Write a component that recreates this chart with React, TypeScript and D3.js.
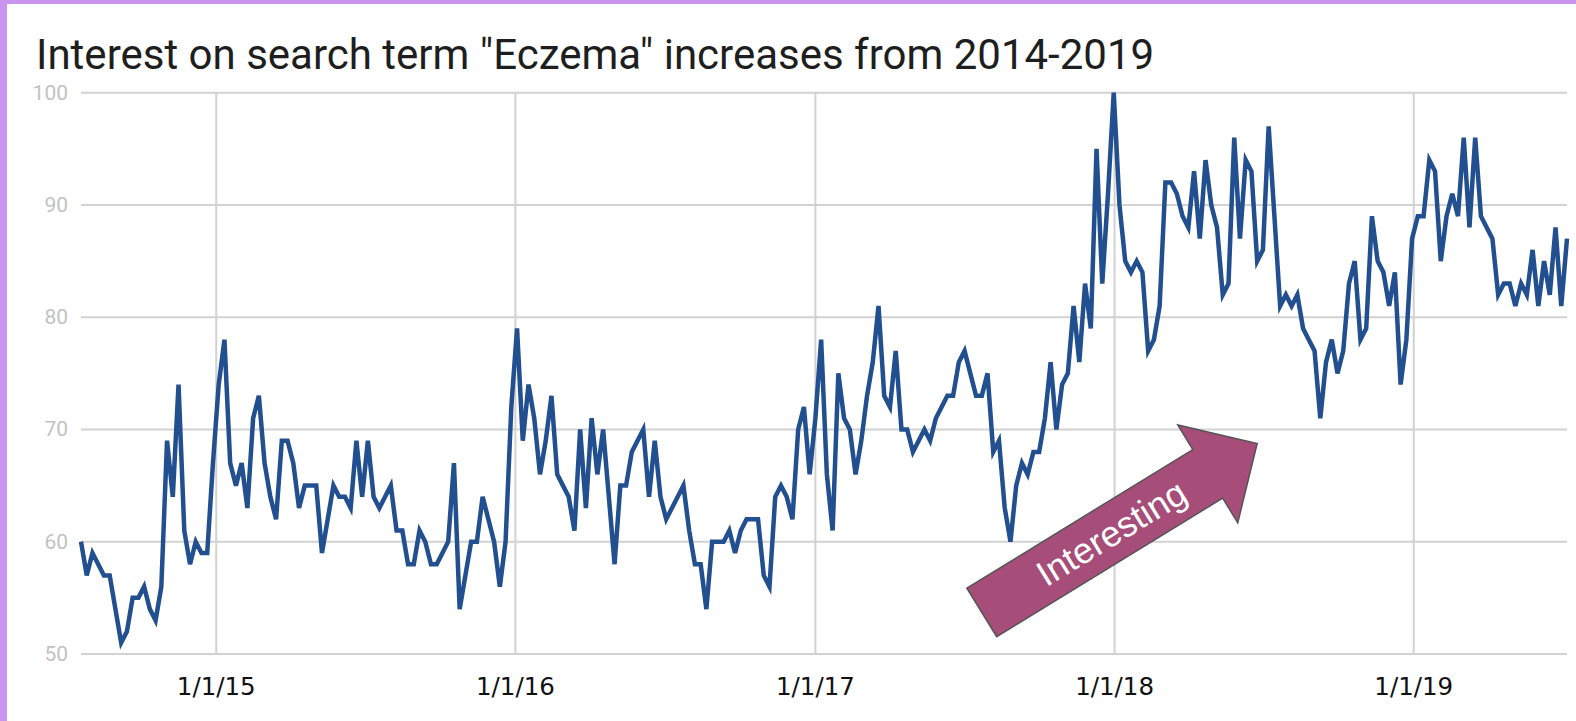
import React, { useRef, useEffect } from 'react';
import * as d3 from 'd3';

// weekly interest, first week starts 2014-07-20
const startWeek = '2014-07-20';

const weeks2014 = [60, 57, 59, 58, 57, 57, 54, 51, 52, 55, 55, 56, 54, 53, 56, 69, 64, 74, 61, 58, 60, 59, 59, 67];
const weeks2015 = [74, 78, 67, 65, 67, 63, 71, 73, 67, 64, 62, 69, 69, 67, 63, 65, 65, 65, 59, 62, 65, 64, 64, 63, 69, 64,
  69, 64, 63, 64, 65, 61, 61, 58, 58, 61, 60, 58, 58, 59, 60, 67, 54, 57, 60, 60, 64, 62, 60, 56, 60, 72];
const weeks2016 = [79, 69, 74, 71, 66, 69, 73, 66, 65, 64, 61, 70, 63, 71, 66, 70, 64, 58, 65, 65, 68, 69, 70, 64, 69, 64,
  62, 63, 64, 65, 61, 58, 58, 54, 60, 60, 60, 61, 59, 61, 62, 62, 62, 57, 56, 64, 65, 64, 62, 70, 72, 66];
const weeks2017 = [71, 78, 66, 61, 75, 71, 70, 66, 69, 73, 76, 81, 73, 72, 77, 70, 70, 68, 69, 70, 69, 71, 72, 73, 73, 76,
  77, 75, 73, 73, 75, 68, 69, 63, 60, 65, 67, 66, 68, 68, 71, 76, 70, 74, 75, 81, 76, 83, 79, 95, 83, 91, 100];
const weeks2018 = [90, 85, 84, 85, 84, 77, 78, 81, 92, 92, 91, 89, 88, 93, 87, 94, 90, 88, 82, 83, 96, 87, 94, 93, 85, 86,
  97, 89, 81, 82, 81, 82, 79, 78, 77, 71, 76, 78, 75, 77, 83, 85, 78, 79, 89, 85, 84, 81, 84, 74, 78, 87];
const weeks2019 = [89, 89, 94, 93, 85, 89, 91, 89, 96, 88, 96, 89, 88, 87, 82, 83, 83, 81, 83, 82, 86, 81, 85, 82, 88, 81, 87];

const yTicks = [50, 60, 70, 80, 90, 100];
const xTickDates = ['2015-01-01', '2016-01-01', '2017-01-01', '2018-01-01', '2019-01-01'];
const xTickLabels = ['1/1/15', '1/1/16', '1/1/17', '1/1/18', '1/1/19'];

const title = 'Interest on search term "Eczema" increases from 2014-2019';
const note = 'Interesting';
const noteFrom = { date: '2017-07-23', value: 53.7 };
const noteTo = { date: '2018-06-24', value: 68.75 };

const App = () => {
  const svgRef = useRef<SVGSVGElement>(null);

  useEffect(() => {
    const w = 1576;
    const h = 721;
    const svg = d3.select(svgRef.current);
    svg.selectAll('*').remove();

    const values = [...weeks2014, ...weeks2015, ...weeks2016, ...weeks2017, ...weeks2018, ...weeks2019];
    const start = new Date(startWeek + 'T00:00:00Z');
    const data = values.map((v, i) => ({ date: d3.utcWeek.offset(start, i), value: v }));

    const left = 81, right = 1567, top = 92.7, bottom = 654;
    const x = d3.scaleUtc()
      .domain([data[0].date, data[data.length - 1].date])
      .range([left, right]);
    const y = d3.scaleLinear().domain([50, 100]).range([bottom, top]);

    svg.append('rect').attr('width', w).attr('height', h).attr('fill', '#fff');
    // purple page edges
    svg.append('rect').attr('x', 0).attr('y', 0).attr('width', 7).attr('height', h).attr('fill', '#ca95f1');
    svg.append('rect').attr('x', 0).attr('y', 0).attr('width', w).attr('height', 4).attr('fill', '#ca95f1');

    svg.append('text')
      .attr('x', 36).attr('y', 69)
      .attr('font-family', 'Roboto, sans-serif')
      .attr('font-size', 42)
      .attr('fill', '#1e1e1e')
      .text(title);

    const grid = svg.append('g').attr('stroke', '#d2d2d2').attr('stroke-width', 2);
    grid.selectAll('.hy').data(yTicks).join('line')
      .attr('x1', left).attr('x2', right)
      .attr('y1', d => y(d)).attr('y2', d => y(d));
    const xDates = xTickDates.map(s => new Date(s + 'T00:00:00Z'));
    grid.selectAll('.vx').data(xDates).join('line')
      .attr('x1', d => x(d)).attr('x2', d => x(d))
      .attr('y1', top).attr('y2', bottom);

    svg.append('g').selectAll('text').data(yTicks).join('text')
      .attr('x', 68).attr('y', d => y(d))
      .attr('text-anchor', 'end')
      .attr('dominant-baseline', 'central')
      .attr('font-family', 'Roboto, sans-serif')
      .attr('font-size', 21)
      .attr('fill', '#c2c2c2')
      .text(d => d);

    svg.append('g').selectAll('text').data(xDates).join('text')
      .attr('x', d => x(d)).attr('y', 695)
      .attr('text-anchor', 'middle')
      .attr('font-family', '"DejaVu Sans", sans-serif')
      .attr('font-size', 24.5)
      .attr('fill', '#111')
      .text((d, i) => xTickLabels[i]);

    const line = d3.line<{ date: Date; value: number }>().x(d => x(d.date)).y(d => y(d.value));
    svg.append('path').datum(data)
      .attr('d', line)
      .attr('fill', 'none')
      .attr('stroke', '#214f8f')
      .attr('stroke-width', 4.5);

    // annotation arrow
    const p0 = [x(new Date(noteFrom.date + 'T00:00:00Z')), y(noteFrom.value)];
    const p1 = [x(new Date(noteTo.date + 'T00:00:00Z')), y(noteTo.value)];
    const len = Math.hypot(p1[0] - p0[0], p1[1] - p0[1]);
    const ang = Math.atan2(p1[1] - p0[1], p1[0] - p0[0]) * 180 / Math.PI;
    const shaft = 28.5, head = 57.4, headLen = 58;
    const pts: [number, number][] = [
      [0, -shaft], [len - headLen, -shaft], [len - headLen, -head], [len, 0],
      [len - headLen, head], [len - headLen, shaft], [0, shaft],
    ];
    const g = svg.append('g').attr('transform', `translate(${p0[0]},${p0[1]}) rotate(${ang})`);
    g.append('polygon')
      .attr('points', pts.map(p => p.join(',')).join(' '))
      .attr('fill', '#a64d79')
      .attr('stroke', '#555')
      .attr('stroke-width', 1.5);
    g.append('text')
      .attr('x', 152).attr('y', 0)
      .attr('text-anchor', 'middle')
      .attr('dominant-baseline', 'central')
      .attr('font-family', '"Liberation Sans", Arial, sans-serif')
      .attr('font-size', 36)
      .attr('fill', '#fff')
      .text(note);
  }, []);

  return (
    <div>
      <svg ref={svgRef} width={1576} height={721} style={{ position: 'absolute', left: 0, top: 0 }}></svg>
    </div>
  );
};

export default App;
